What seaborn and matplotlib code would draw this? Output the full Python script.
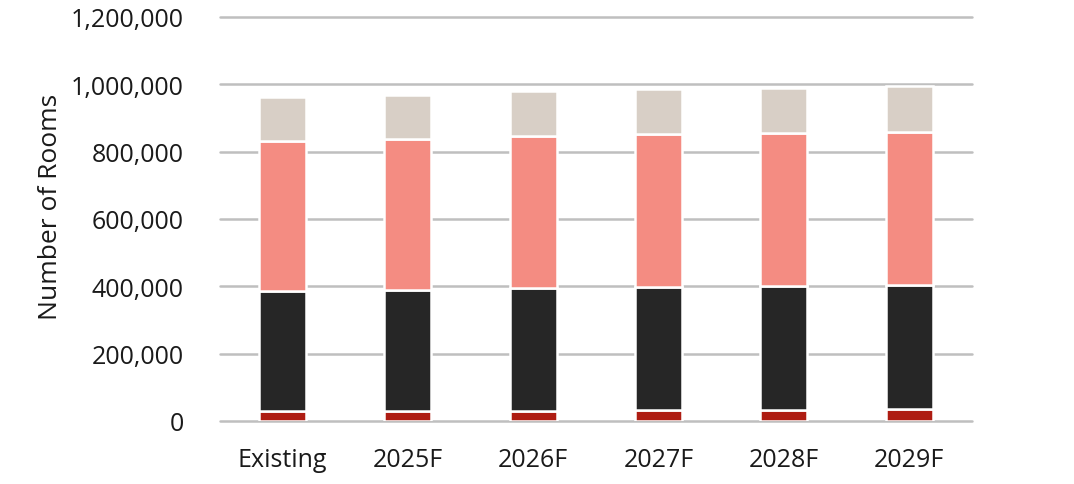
import matplotlib
matplotlib.use("Agg")
import matplotlib.pyplot as plt
import numpy as np
import seaborn as sns
from matplotlib.ticker import FuncFormatter

categories = ["Existing", "2025F", "2026F", "2027F", "2028F", "2029F"]
seg_red = [30500, 31000, 31000, 33000, 33000, 36500]
seg_black = [355500, 359000, 364500, 365000, 369000, 368500]
seg_pink = [447000, 448000, 449500, 454000, 453000, 454000]
seg_beige = [130000, 130000, 134000, 133000, 133000, 135000]

colors = ["#ae1c12", "#262626", "#f48c82", "#d8cfc6"]
segments = [seg_red, seg_black, seg_pink, seg_beige]

sns.set_style("white")
plt.rcParams["font.family"] = ["Open Sans", "DejaVu Sans"]

fig = plt.figure(figsize=(10.74, 4.85), dpi=100)
ax = fig.add_axes([0.2048, 0.13, 0.7002, 0.833])

bottom = np.zeros(len(categories))
for seg, color in zip(segments, colors):
    sns.barplot(x=categories, y=seg, bottom=bottom, color=color, width=0.375,
                edgecolor="white", linewidth=1.8, saturation=1, ax=ax, zorder=3)
    bottom = bottom + np.asarray(seg)

ax.set_ylim(0, 1200000)
ax.set_xlim(-0.5, len(categories) - 0.5)
ax.set_yticks(np.arange(0, 1200001, 200000))
ax.yaxis.set_major_formatter(FuncFormatter(lambda v, _: f"{int(v):,}"))
ax.yaxis.grid(True, color="#bfbfbf", linewidth=1.8)
ax.xaxis.grid(False)
ax.set_axisbelow(True)
for gl in ax.yaxis.get_gridlines():
    gl.set_clip_on(False)
for s in ax.spines.values():
    s.set_visible(False)

ax.tick_params(axis="y", length=0, pad=26, labelsize=18, labelcolor="#1a1a1a")
ax.tick_params(axis="x", length=0, pad=19, labelsize=18, labelcolor="#1a1a1a")
ax.set_ylabel("Number of Rooms", fontsize=19, color="#1a1a1a")
ax.yaxis.set_label_coords(-0.209, 0.532)
ax.set_xlabel("")

fig.savefig("out.png", dpi=100)
